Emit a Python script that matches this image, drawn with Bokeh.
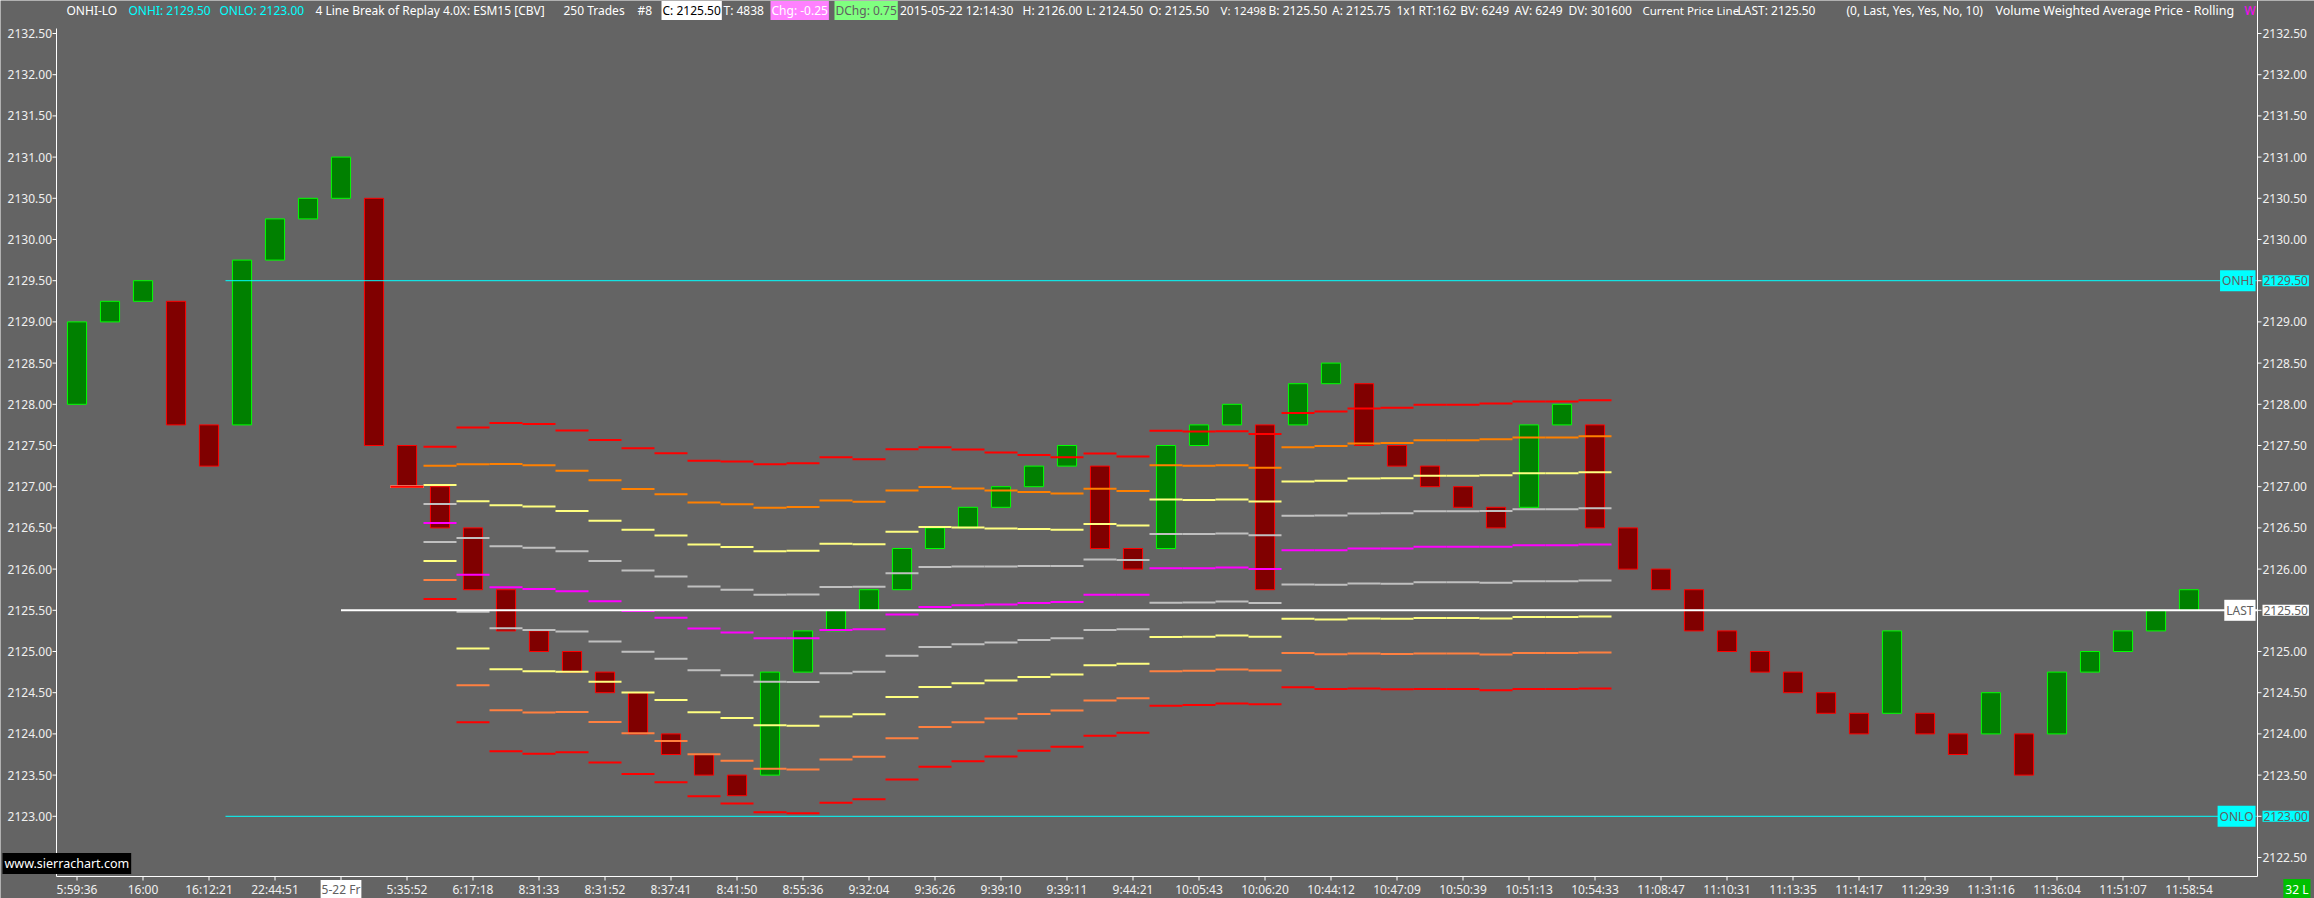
from bokeh.plotting import figure
from bokeh.models import Range1d, Label, ColumnDataSource
from bokeh.core.properties import value
from bokeh.embed import file_html
from bokeh.resources import INLINE

# ---------------- data ----------------
bar_open = [2128.00, 2129.00, 2129.25, 2129.25, 2127.75, 2127.75, 2129.75, 2130.25, 2130.50, 2130.50,
            2127.50, 2127.00, 2126.50, 2125.75, 2125.25, 2125.00, 2124.75, 2124.50, 2124.00, 2123.75,
            2123.50, 2123.50, 2124.75, 2125.25, 2125.50, 2125.75, 2126.25, 2126.50, 2126.75, 2127.00,
            2127.25, 2127.25, 2126.25, 2126.25, 2127.50, 2127.75, 2127.75, 2127.75, 2128.25, 2128.25,
            2127.50, 2127.25, 2127.00, 2126.75, 2126.75, 2127.75, 2127.75, 2126.50, 2126.00, 2125.75,
            2125.25, 2125.00, 2124.75, 2124.50, 2124.25, 2124.25, 2124.25, 2124.00, 2124.00, 2124.00,
            2124.00, 2124.75, 2125.00, 2125.25, 2125.50]
bar_close = [2129.00, 2129.25, 2129.50, 2127.75, 2127.25, 2129.75, 2130.25, 2130.50, 2131.00, 2127.50,
             2127.00, 2126.50, 2125.75, 2125.25, 2125.00, 2124.75, 2124.50, 2124.00, 2123.75, 2123.50,
             2123.25, 2124.75, 2125.25, 2125.50, 2125.75, 2126.25, 2126.50, 2126.75, 2127.00, 2127.25,
             2127.50, 2126.25, 2126.00, 2127.50, 2127.75, 2128.00, 2125.75, 2128.25, 2128.50, 2127.50,
             2127.25, 2127.00, 2126.75, 2126.50, 2127.75, 2128.00, 2126.50, 2126.00, 2125.75, 2125.25,
             2125.00, 2124.75, 2124.50, 2124.25, 2124.00, 2125.25, 2124.00, 2123.75, 2124.50, 2123.50,
             2124.75, 2125.00, 2125.25, 2125.50, 2125.75]

x_tick_labels = ["5:59:36", "16:00", "16:12:21", "22:44:51", "5-22 Fr", "5:35:52", "6:17:18",
                 "8:31:33", "8:31:52", "8:37:41", "8:41:50", "8:55:36", "9:32:04", "9:36:26",
                 "9:39:10", "9:39:11", "9:44:21", "10:05:43", "10:06:20", "10:44:12", "10:47:09",
                 "10:50:39", "10:51:13", "10:54:33", "11:08:47", "11:10:31", "11:13:35", "11:14:17",
                 "11:29:39", "11:31:16", "11:36:04", "11:51:07", "11:58:54"]
date_tick_label = "5-22 Fr"

y_tick_values = [2122.50, 2123.00, 2123.50, 2124.00, 2124.50, 2125.00, 2125.50, 2126.00, 2126.50,
                 2127.00, 2127.50, 2128.00, 2128.50, 2129.00, 2129.50, 2130.00, 2130.50, 2131.00,
                 2131.50, 2132.00, 2132.50]

# rolling VWAP study (bars 10..46): centre line and distance between adjacent bands
vwap_first_bar = 10
vwap = [2127.00, 2126.56, 2125.93, 2125.78, 2125.76, 2125.73, 2125.61, 2125.49, 2125.41, 2125.28,
        2125.23, 2125.16, 2125.16, 2125.26, 2125.27, 2125.45, 2125.54, 2125.56, 2125.57, 2125.59,
        2125.60, 2125.69, 2125.69, 2126.01, 2126.01, 2126.02, 2126.00, 2126.23, 2126.23, 2126.25,
        2126.25, 2126.27, 2126.27, 2126.27, 2126.29, 2126.29, 2126.30]
band_step = [0.000, 0.231, 0.447, 0.498, 0.500, 0.488, 0.489, 0.494, 0.499, 0.509,
             0.519, 0.528, 0.531, 0.524, 0.516, 0.501, 0.485, 0.473, 0.461, 0.449,
             0.439, 0.428, 0.419, 0.417, 0.415, 0.413, 0.410, 0.416, 0.421, 0.425,
             0.427, 0.431, 0.431, 0.435, 0.436, 0.436, 0.437]
band_mult = [4, 3, 2, 1, 0, -1, -2, -3, -4]

onhi = 2129.50
onlo = 2123.00
last_price = 2125.50
level_start_bar = 4.5
last_start_bar = 8
bar_count_text = "32 L"

# ---------------- style / layout ----------------
BG = "#646464"
FONT = "Noto Sans"
AXC = "#f0f0f0"
band_colors = ["#ff0000", "#ff8000", "#ffff80", "#c0c0c0", "#ff00ff",
               "#c0c0c0", "#ffff80", "#ff8040", "#ff0000"]
W, H = 2314, 898

# page-pixel -> data helpers (layout only)
PX0, PDX = 76.5, 33.0
PY0, PV0, PDY = 33.0, 2132.5, 82.4
def X(px):
    return (px - PX0) / PDX
def Y(py):
    return PV0 - (py - PY0) / PDY

p = figure(width=W, height=H, output_backend="svg", toolbar_location=None,
           x_range=Range1d(X(0), X(W)), y_range=Range1d(Y(H), Y(0)),
           x_axis_location=None, y_axis_location=None,
           background_fill_color=BG, border_fill_color=BG,
           min_border=0, min_border_left=0, min_border_right=0,
           min_border_top=0, min_border_bottom=0)
p.outline_line_color = None
p.grid.visible = False
p.xgrid.visible = False
p.ygrid.visible = False

AX_L, AX_R, AX_B = X(56), X(2257), Y(876)

# ---------------- bars ----------------
bx = list(range(len(bar_open)))
up = [c > o for o, c in zip(bar_open, bar_close)]
bar_src = ColumnDataSource(dict(
    x=bx,
    top=[max(o, c) for o, c in zip(bar_open, bar_close)],
    bottom=[min(o, c) for o, c in zip(bar_open, bar_close)],
    fill=["#008000" if u else "#800000" for u in up],
    line=["#00ff00" if u else "#ff0000" for u in up],
))
p.vbar(x="x", top="top", bottom="bottom", width=0.58, fill_color="fill",
       line_color="line", line_width=1, source=bar_src)

# ---------------- VWAP bands ----------------
for mult, col in zip(band_mult, band_colors):
    xs = [vwap_first_bar + i for i in range(len(vwap))]
    ys = [v + mult * s for v, s in zip(vwap, band_step)]
    p.segment(x0=[x - 0.5 for x in xs], x1=[x + 0.5 for x in xs], y0=ys, y1=ys,
              line_color=col, line_width=2)

# ---------------- level lines ----------------
p.segment(x0=[level_start_bar, level_start_bar], x1=[AX_R, AX_R], y0=[onhi, onlo], y1=[onhi, onlo],
          line_color="#00ffff", line_width=1)
p.segment(x0=[last_start_bar], x1=[AX_R], y0=[last_price], y1=[last_price],
          line_color="white", line_width=2)

# ---------------- axes (lines, ticks, labels) ----------------
p.segment(x0=[AX_L, AX_R, AX_L], y0=[Y(28), Y(0), AX_B], x1=[AX_L, AX_R, AX_R], y1=[AX_B, AX_B, AX_B],
          line_color="white", line_width=1)
n = len(y_tick_values)
p.segment(x0=[AX_R] * n, x1=[X(2261)] * n, y0=y_tick_values, y1=y_tick_values,
          line_color="white", line_width=1)
p.segment(x0=[X(52)] * n, x1=[AX_L] * n, y0=y_tick_values, y1=y_tick_values,
          line_color="white", line_width=1)
x_tick_pos = [2 * i for i in range(len(x_tick_labels))]
m = len(x_tick_pos)
p.segment(x0=x_tick_pos, x1=x_tick_pos, y0=[AX_B] * m, y1=[Y(880)] * m,
          line_color="white", line_width=1)

marked = {onhi, onlo, last_price}
y_lab = [f"{v:.2f}" for v in y_tick_values]
r_src = ColumnDataSource(dict(y=[v for v in y_tick_values if v not in marked],
                              t=[s for v, s in zip(y_tick_values, y_lab) if v not in marked]))
p.text(x=X(2262), y="y", text="t", source=r_src, text_color=AXC, text_font=value(FONT),
       text_font_size=value("12px"), text_align="left", text_baseline="middle")
l_src = ColumnDataSource(dict(y=y_tick_values, t=y_lab))
p.text(x=X(51.5), y="y", text="t", source=l_src, text_color=AXC, text_font=value(FONT),
       text_font_size=value("12px"), text_align="right", text_baseline="middle")
b_src = ColumnDataSource(dict(x=[t for t, s in zip(x_tick_pos, x_tick_labels) if s != date_tick_label],
                              t=[s for s in x_tick_labels if s != date_tick_label]))
p.text(x="x", y=Y(889), text="t", source=b_src, text_color=AXC, text_font=value(FONT),
       text_font_size=value("12px"), text_align="center", text_baseline="middle")

# ---------------- labels ----------------
def lab(x, y, text, color, bg=None, align="left", size="12px", pad=1):
    kw = dict(x=x, y=y, text=text, text_color=color, text_font=FONT, text_font_size=size,
              text_align=align, text_baseline="middle")
    if bg is not None:
        kw.update(background_fill_color=bg, background_fill_alpha=1.0, padding=pad)
    p.add_layout(Label(**kw))

hy = Y(10)
header = [
    (66, "ONHI-LO", "white", None, "12px"),
    (128, "ONHI: 2129.50", "#00ffff", None, "12px"),
    (219, "ONLO: 2123.00", "#00ffff", None, "12px"),
    (315, "4 Line Break of Replay 4.0X: ESM15 [CBV]", "white", None, "12px"),
    (563, "250 Trades", "white", None, "12px"),
    (637, "#8", "white", None, "12px"),
    (661, "C: 2125.50", "black", "white", "12px"),
    (723, "T: 4838", "white", None, "12px"),
    (770, "Chg: -0.25", "#ffffff", "#ff80ff", "12px"),
    (834, "DChg: 0.75", "#606060", "#80ff80", "12px"),
    (899.5, "2015-05-22 12:14:30", "white", None, "12px"),
    (1022, "H: 2126.00", "white", None, "12px"),
    (1085.7, "L: 2124.50", "white", None, "12px"),
    (1148.5, "O: 2125.50", "white", None, "12px"),
    (1220, "V: 12498", "white", None, "11.5px"),
    (1268, "B: 2125.50", "white", None, "12px"),
    (1331.6, "A: 2125.75", "white", None, "12px"),
    (1396, "1x1", "white", None, "12px"),
    (1418, "RT:162", "white", None, "12px"),
    (1459.7, "BV: 6249", "white", None, "12px"),
    (1514, "AV: 6249", "white", None, "12px"),
    (1568, "DV: 301600", "white", None, "12px"),
    (1642, "Current Price Line", "white", None, "11.5px"),
    (1737, "LAST: 2125.50", "white", None, "12px"),
    (1846, "(0, Last, Yes, Yes, No, 10)", "white", None, "12px"),
    (1995, "Volume Weighted Average Price - Rolling", "white", None, "12.5px"),
    (2244, "W", "#ff00ff", None, "12px"),
]
for px, text, col, bg, sz in header:
    lab(X(px), hy, text, col, bg, size=sz)

# right-side price markers
for price, name, bg in [(onhi, "ONHI", "#00ffff"), (last_price, "LAST", "white"), (onlo, "ONLO", "#00ffff")]:
    lab(X(2255), price, name, "#606060", bg, align="right", pad=2)
    lab(X(2262), price, f"{price:.2f}", "#606060", bg, size="12px", pad=1)

# date marker on time axis
lab(x_tick_pos[x_tick_labels.index(date_tick_label)], Y(889), date_tick_label, "#606060", "white",
    align="center")

# watermark and bar counter
lab(X(2), Y(863), "www.sierrachart.com", "white", "black", size="12.5px", pad=2)
lab(X(2310), Y(889), bar_count_text, "white", "#00c000", align="right", pad=2)

open("out.html", "w").write(file_html(p, INLINE))
